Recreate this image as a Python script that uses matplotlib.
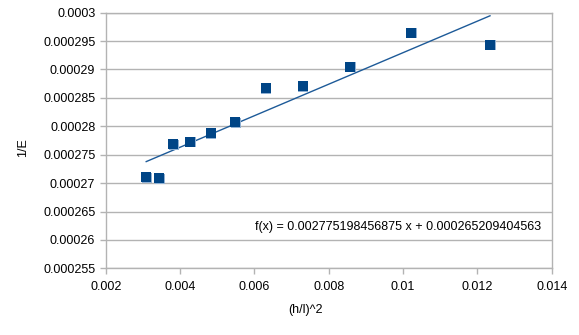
import numpy as np
import matplotlib
matplotlib.use("Agg")
import matplotlib.pyplot as plt
from matplotlib import transforms

plt.rcParams['font.family'] = ['Liberation Sans', 'DejaVu Sans']

# data
hl2 = [0.00309, 0.00343, 0.00381, 0.00427, 0.00482, 0.00549,
       0.00630, 0.00730, 0.00857, 0.01021, 0.01234]
inv_e = [0.0002711, 0.0002709, 0.0002769, 0.0002773, 0.0002788, 0.0002808,
         0.0002867, 0.0002871, 0.0002905, 0.0002965, 0.0002944]

# trend line coefficients as printed on the chart
slope = 0.002775198456875
intercept = 0.000265209404563

x_ticks = [0.002, 0.004, 0.006, 0.008, 0.01, 0.012, 0.014]
y_ticks = [0.000255, 0.00026, 0.000265, 0.00027, 0.000275,
           0.00028, 0.000285, 0.00029, 0.000295, 0.0003]

W, H = 579, 335
fig = plt.figure(figsize=(W / 100, H / 100), dpi=100)
ax = fig.add_axes([105.7 / W, 1 - 268.3 / H, (551.7 - 105.7) / W, (268.3 - 12.7) / H])

grid_col = '#b3b3b3'
ax.set_xlim(0.002, 0.014)
ax.set_ylim(0.000255, 0.0003)
ax.set_xticks(x_ticks)
ax.set_yticks(y_ticks)
ax.set_xticklabels([f"{v:g}" for v in x_ticks])
ax.set_yticklabels([f"{v:.6f}".rstrip('0') for v in y_ticks])
ax.grid(axis='y', color=grid_col, linewidth=1)
ax.set_axisbelow(True)
for s in ax.spines.values():
    s.set_color(grid_col)
    s.set_linewidth(1)
ax.tick_params(colors=grid_col, labelcolor='black', labelsize=9, length=4, width=1)
ax.tick_params(axis='x', pad=5)

# trend line
xs = np.array([min(hl2), max(hl2)])
ax.plot(xs, slope * xs + intercept, color='#1d5a98', linewidth=1, zorder=2)

# markers with a light shadow
shadow = transforms.offset_copy(ax.transData, fig=fig, x=0.8, y=-0.8, units='dots')
ax.plot(hl2, inv_e, 's', color='#8fb0d3', markersize=7.2, markeredgewidth=0,
        transform=shadow, zorder=3)
ax.plot(hl2, inv_e, 's', color='#004586', markersize=7, markeredgewidth=0, zorder=4)

fig.text(255 / W, 1 - 227 / H, f"f(x) = {slope} x + {intercept}",
         fontsize=9, va='center', ha='left')
fig.text(305.5 / W, 1 - 310 / H, "(h/l)^2", fontsize=9, ha='center', va='center')
fig.text(23 / W, 1 - 148 / H, "1/E", fontsize=9, rotation=90, ha='center', va='center')

fig.savefig("out.png", dpi=100)
